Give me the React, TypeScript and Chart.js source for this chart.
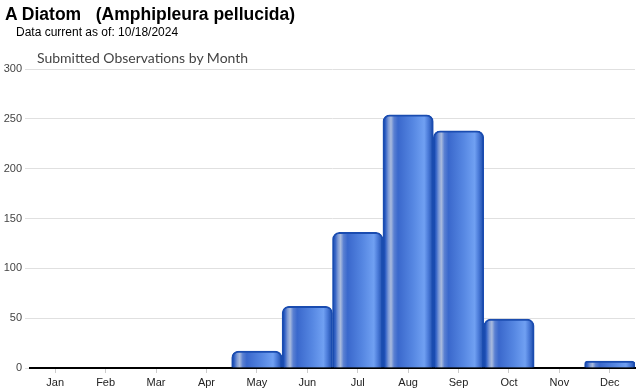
import React, { useEffect, useRef } from "react";
import { Chart, registerables } from "chart.js";

Chart.register(...registerables);

const months = ["Jan", "Feb", "Mar", "Apr", "May", "Jun", "Jul", "Aug", "Sep", "Oct", "Nov", "Dec"];
const observations = [0, 0, 0, 0, 17, 62, 136, 254, 238, 49, 0, 7];
const yTicks = [0, 50, 100, 150, 200, 250, 300];

const titleText = "A Diatom   (Amphipleura pellucida)";
const subtitleText = "Data current as of: 10/18/2024";
const chartTitle = "Submitted Observations by Month";

export default function App() {
  const ref = useRef<HTMLCanvasElement | null>(null);

  useEffect(() => {
    const canvas = ref.current;
    if (!canvas) return;
    const chart = new Chart(canvas, {
      type: "bar",
      data: {
        labels: months,
        datasets: [
          {
            data: observations,
            barPercentage: 1,
            categoryPercentage: 1,
            borderColor: "#1a4cb0",
            borderWidth: 2,
            borderSkipped: "bottom",
            borderRadius: { topLeft: 7, topRight: 7, bottomLeft: 0, bottomRight: 0 },
            backgroundColor: (ctx: any) => {
              const c = ctx.chart;
              const xs = c.scales && c.scales.x;
              if (!xs || !c.chartArea) return "#3f6fd0";
              const cx = xs.getPixelForValue(ctx.dataIndex);
              const w = (c.chartArea.right - c.chartArea.left) / months.length;
              const x0 = cx - w / 2;
              const x1 = cx + w / 2;
              const g = c.ctx.createLinearGradient(x0, 0, x1, 0);
              g.addColorStop(0, "#1a4aa8");
              g.addColorStop(0.05, "#2f5fc4");
              g.addColorStop(0.11, "#7f9bd6");
              g.addColorStop(0.16, "#a9bbde");
              g.addColorStop(0.22, "#5a80d2");
              g.addColorStop(0.3, "#3a68cc");
              g.addColorStop(0.6, "#5687e2");
              g.addColorStop(0.82, "#70a0f2");
              g.addColorStop(0.9, "#4a7ad8");
              g.addColorStop(1, "#1a4aa8");
              return g;
            },
          },
        ],
      },
      options: {
        animation: false,
        responsive: false,
        maintainAspectRatio: false,
        layout: { padding: { top: 69, right: 5, bottom: 0, left: 0 } },
        plugins: {
          legend: { display: false },
          tooltip: { enabled: false },
          title: { display: false },
        },
        scales: {
          x: {
            offset: true,
            afterFit: (scale: any) => {
              scale.height = 22;
            },
            grid: {
              offset: false,
              drawOnChartArea: false,
              drawTicks: true,
              tickLength: 5,
              color: "#cccccc",
            },
            border: { display: true, color: "#000000", width: 2 },
            ticks: {
              color: "#222222",
              font: { family: "Arial, 'Liberation Sans', sans-serif", size: 11 },
              padding: 3,
              maxRotation: 0,
            },
          },
          y: {
            min: 0,
            max: 300,
            afterBuildTicks: (scale: any) => {
              scale.ticks = yTicks.map((v) => ({ value: v }));
            },
            afterFit: (scale: any) => {
              scale.width = 30;
            },
            grid: {
              color: "#e0e0e0",
              drawTicks: true,
              tickLength: 5,
              lineWidth: 1,
            },
            border: { display: false },
            ticks: {
              color: "#444444",
              font: { family: "Arial, 'Liberation Sans', sans-serif", size: 11 },
              padding: 3,
            },
          },
        },
      },
    });
    return () => chart.destroy();
  }, []);

  return (
    <div style={{ position: "absolute", left: 0, top: 0, width: 640, height: 390, background: "#fff", overflow: "hidden" }}>
      <canvas ref={ref} width={640} height={390} style={{ position: "absolute", left: 0, top: 0, width: 640, height: 390 }} />
      <div
        style={{
          position: "absolute",
          left: 5,
          top: 4,
          fontFamily: "Arial, 'Liberation Sans', sans-serif",
          fontWeight: "bold",
          fontSize: 17.5,
          whiteSpace: "pre",
          color: "#000",
          lineHeight: "20px",
        }}
      >
        {titleText}
      </div>
      <div
        style={{
          position: "absolute",
          left: 16,
          top: 25,
          fontFamily: "Arial, 'Liberation Sans', sans-serif",
          fontSize: 12,
          whiteSpace: "pre",
          color: "#000",
          lineHeight: "14px",
        }}
      >
        {subtitleText}
      </div>
      <div
        style={{
          position: "absolute",
          left: 37,
          top: 49,
          fontFamily: "Lato, 'Open Sans', sans-serif",
          fontSize: 14,
          whiteSpace: "pre",
          color: "#444",
          lineHeight: "18px",
        }}
      >
        {chartTitle}
      </div>
    </div>
  );
}
